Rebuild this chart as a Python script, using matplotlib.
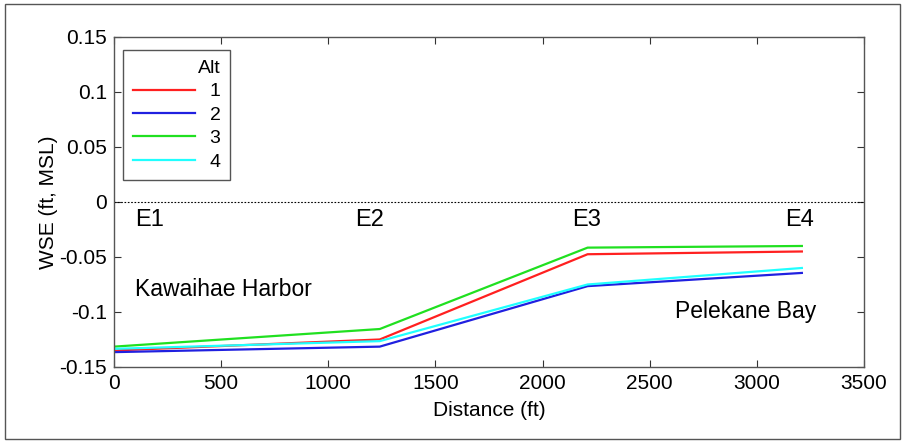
import matplotlib
matplotlib.use("Agg")
import matplotlib.pyplot as plt
from matplotlib.patches import Rectangle

plt.rcParams['font.family'] = ['Liberation Sans', 'DejaVu Sans']

distance = [0, 1240, 2210, 3210]
alt1 = [-0.1350, -0.1250, -0.0475, -0.0450]
alt2 = [-0.1365, -0.1315, -0.0765, -0.0645]
alt3 = [-0.1315, -0.1155, -0.0415, -0.0400]
alt4 = [-0.1335, -0.1265, -0.0750, -0.0600]
series = [("1", alt1, "#ff2020"), ("2", alt2, "#2020e0"), ("3", alt3, "#20e020"), ("4", alt4, "#20ffff")]

xticks = [0, 500, 1000, 1500, 2000, 2500, 3000, 3500]
yticks = [-0.15, -0.1, -0.05, 0, 0.05, 0.1, 0.15]
ytick_labels = ["-0.15", "-0.1", "-0.05", "0", "0.05", "0.1", "0.15"]

stations = ["E1", "E2", "E3", "E4"]
station_x = [98, 1125, 2137, 3131]

fig = plt.figure(figsize=(9.07, 4.43), dpi=100)
fig.patches.append(Rectangle((0.006, 0.008), 0.986, 0.982, transform=fig.transFigure,
                             fill=False, edgecolor="#555555", linewidth=1.0))
ax = fig.add_axes([0.1257, 0.1716, 0.8269, 0.7449])

for name, vals, col in series:
    ax.plot(distance, vals, color=col, linewidth=1.6, label=name)

ax.axhline(0, color="black", linestyle=(0, (1.5, 1.5)), linewidth=0.8)

ax.set_xlim(0, 3500)
ax.set_ylim(-0.15, 0.15)
ax.set_xticks(xticks)
ax.set_xticklabels([str(v) for v in xticks])
ax.set_yticks(yticks)
ax.set_yticklabels(ytick_labels)
ax.tick_params(direction="in", top=True, right=True, labelsize=15, length=5, width=0.8,
               colors="#333333", labelcolor="black", pad=5)
for s in ax.spines.values():
    s.set_color("#555555")
    s.set_linewidth(1.0)

ax.set_xlabel("Distance (ft)", fontsize=15, labelpad=6)
ax.set_ylabel("WSE (ft, MSL)", fontsize=15, labelpad=1)

for name, x in zip(stations, station_x):
    ax.text(x, -0.0165, name, fontsize=17, va="center", ha="left")

ax.text(98, -0.080, "Kawaihae Harbor", fontsize=16.5, va="center", ha="left")
ax.text(3276, -0.100, "Pelekane Bay", fontsize=16.5, va="center", ha="right")

leg = ax.legend(title="Alt", loc="upper left", bbox_to_anchor=(0.012, 0.96), fontsize=14,
                title_fontsize=14, alignment="right", fancybox=False, framealpha=1,
                edgecolor="#555555", handlelength=3.2, handletextpad=0.75, borderpad=0.5,
                labelspacing=0.3, borderaxespad=0)
leg.get_frame().set_linewidth(1.0)

fig.savefig("out.png", dpi=100)
